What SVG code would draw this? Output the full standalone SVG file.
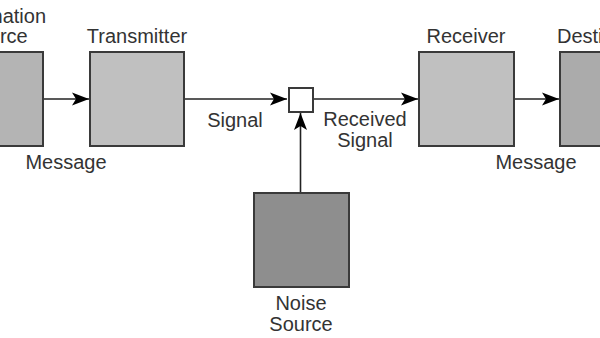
<svg xmlns="http://www.w3.org/2000/svg" width="600" height="338" viewBox="0 0 600 338">
<style>
text{font-family:"Liberation Sans",Arial,sans-serif;font-size:20px;fill:#333;text-anchor:middle}
.box{stroke:#3a3a3a;stroke-width:2}
.ln{stroke:#222;stroke-width:1.6;fill:none}
</style>
<defs>
<marker id="ah" markerWidth="18" markerHeight="14" refX="17" refY="7" orient="auto" markerUnits="userSpaceOnUse">
<path d="M0,0.5 L17,7 L0,13.5 L4,7 Z" fill="#000"/>
</marker>
</defs>
<rect width="600" height="338" fill="#fff"/>
<g id="connectors">
<line class="ln" x1="43" y1="99" x2="89" y2="99" marker-end="url(#ah)"/>
<line class="ln" x1="184" y1="99" x2="287" y2="99" marker-end="url(#ah)"/>
<line class="ln" x1="313" y1="99" x2="418" y2="99" marker-end="url(#ah)"/>
<line class="ln" x1="514" y1="99" x2="559" y2="99" marker-end="url(#ah)"/>
<line class="ln" x1="300.5" y1="193" x2="300.5" y2="113" marker-end="url(#ah)"/>
<text x="66" y="169">Message</text>
<text x="235" y="127">Signal</text>
<text x="365" y="126">Received</text>
<text x="365" y="147">Signal</text>
<text x="536" y="169">Message</text>
</g>
<g id="source">
<rect class="box" x="-51" y="52" width="94" height="94" fill="#b4b4b4"/>
<text x="-4" y="23">Information</text>
<text x="-4" y="43">Source</text>
</g>
<g id="transmitter">
<rect class="box" x="90" y="52" width="94" height="94" fill="#c0c0c0"/>
<text x="137" y="43">Transmitter</text>
</g>
<g id="mixer">
<rect class="box" x="289" y="88" width="24" height="24" fill="#fff"/>
</g>
<g id="receiver">
<rect class="box" x="419" y="52" width="95" height="94" fill="#c0c0c0"/>
<text x="466" y="43">Receiver</text>
</g>
<g id="destination">
<rect class="box" x="560" y="52" width="94" height="94" fill="#ababab"/>
<text x="607" y="43">Destination</text>
</g>
<g id="noise">
<rect class="box" x="254" y="193" width="95" height="94" fill="#8e8e8e"/>
<text x="301" y="310">Noise</text>
<text x="301" y="331">Source</text>
</g>
</svg>
